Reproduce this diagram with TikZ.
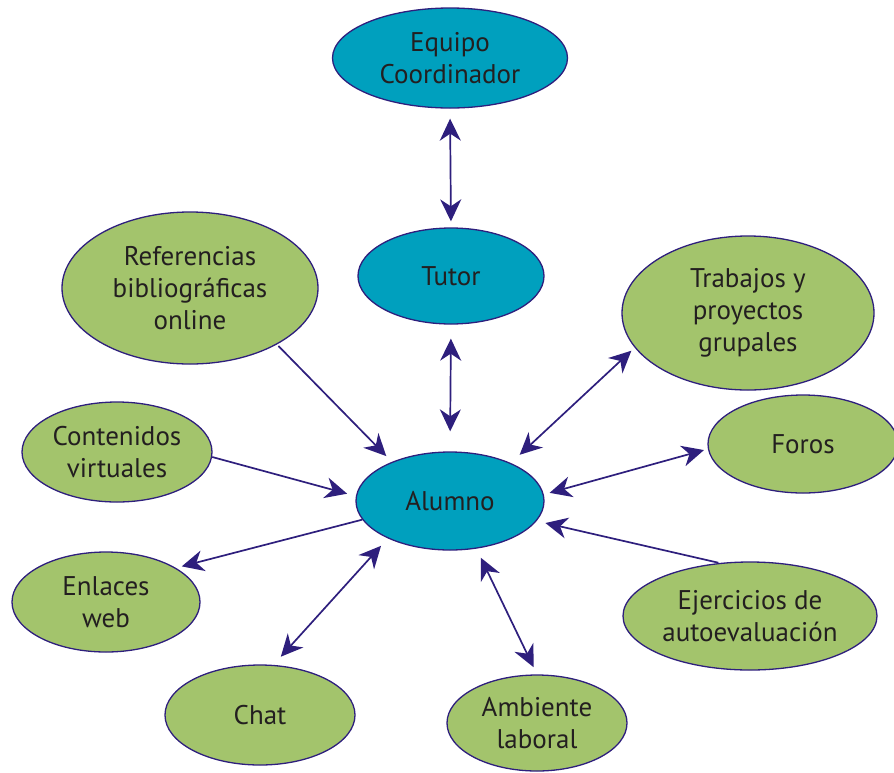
\documentclass[tikz,border=0pt]{standalone}
\usepackage{fontspec}
\setmainfont{PT Sans}
\usetikzlibrary{shapes.geometric,arrows.meta}
\definecolor{cyanfill}{HTML}{00A0BE}
\definecolor{greenfill}{HTML}{A3C46C}
\definecolor{navy}{HTML}{2E1F7D}
\definecolor{txt}{HTML}{231F20}
\begin{document}
\begin{tikzpicture}[x=1pt,y=-1pt,
  bub/.style={ellipse, draw=navy, line width=1.3pt, inner sep=0pt, align=center,
    text=txt, font=\fontsize{27}{32}\selectfont},
  bluebub/.style={bub, fill=cyanfill},
  greenbub/.style={bub, fill=greenfill},
  >={Stealth[length=22pt,width=21pt,inset=7pt]},
  single/.style={draw=navy, line width=1.7pt, ->},
  both/.style={draw=navy, line width=1.7pt, <->}]
\useasboundingbox (0,0) rectangle (894,772);
\node[bluebub, minimum width=235pt, minimum height=100pt] (coord) at (450,58) {Equipo\\Coordinador};
\node[bluebub, minimum width=186pt, minimum height=96pt] (tutor) at (451,276) {Tutor};
\node[bluebub, minimum width=188pt, minimum height=98pt] (alumno) at (450,501) {Alumno};
\node[greenbub, minimum width=256pt, minimum height=152pt] (ref) at (190,288) {Referencias\\bibliográficas\\online};
\node[greenbub, minimum width=252pt, minimum height=154pt] (trab) at (748,313) {Trabajos y\\proyectos\\grupales};
\node[greenbub, minimum width=190pt, minimum height=100pt] (cont) at (117,452) {Contenidos\\virtuales};
\node[greenbub, minimum width=190pt, minimum height=98pt] (foros) at (803,444) {Foros};
\node[greenbub, minimum width=188pt, minimum height=100pt] (enl) at (106,602) {Enlaces\\web};
\node[greenbub, minimum width=190pt, minimum height=100pt] (chat) at (260,715) {Chat};
\node[greenbub, minimum width=180pt, minimum height=96pt] (amb) at (537,723) {Ambiente\\laboral};
\node[greenbub, minimum width=254pt, minimum height=108pt] (ejer) at (750,616) {Ejercicios de\\autoevaluación};

\draw[both, shorten <=10pt, shorten >=6pt] (coord.south) -- (tutor.north);
\draw[both, shorten <=14pt, shorten >=20pt] (tutor.south) -- (alumno.north);
\draw[single, shorten <=2pt, shorten >=8pt] (ref.-33) -- (alumno.146.5);
\draw[single, shorten >=9pt] (cont.-3) -- (alumno.177);
\draw[both, shorten <=4.5pt, shorten >=12pt] (trab.197.7) -- (alumno.32);
\draw[both, shorten <=4pt, shorten >=6pt] (foros.183.5) -- (alumno.4.6);
\draw[single, shorten >=6pt] (alumno.192.3) -- (enl.26.6);
\draw[both, shorten <=11pt, shorten >=10pt] (chat.75) -- (alumno.211);
\draw[both, shorten <=8pt, shorten >=10pt] (amb.north) -- (alumno.299.7);
\draw[single, shorten <=1pt, shorten >=9pt] (ejer.120.6) -- (alumno.347);
\end{tikzpicture}
\end{document}
